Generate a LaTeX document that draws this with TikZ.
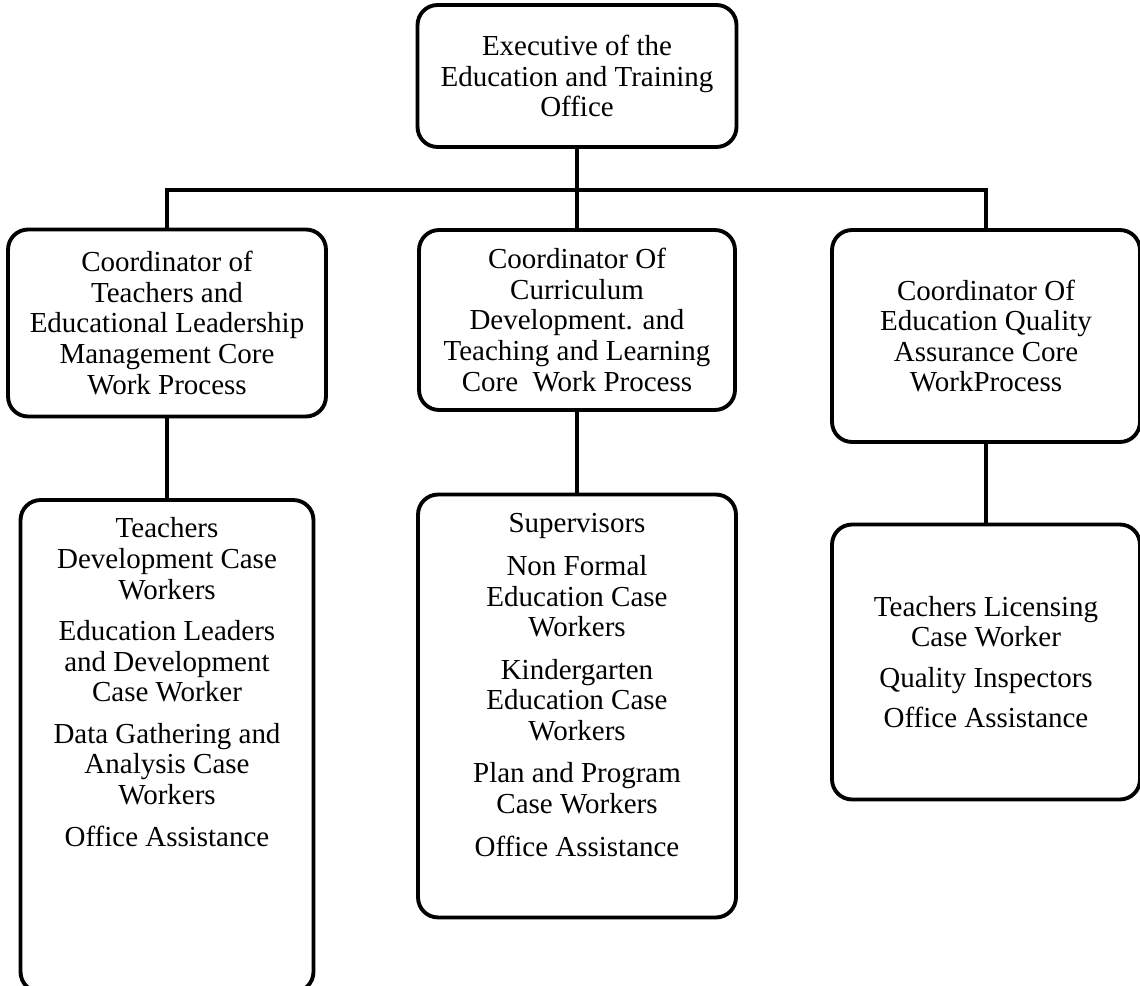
\documentclass[tikz,border=0pt]{standalone}
\usepackage{fontspec}
\setmainfont{Liberation Serif}
\tikzstyle{box}=[draw, line width=2.2pt, rounded corners=0.4cm, align=center, inner sep=0pt]

\begin{document}
\begin{tikzpicture}[x=0.02cm, y=-0.02cm, line width=2.2pt,
font=\fontsize{16.5}{17.4}\selectfont]
\useasboundingbox (0,0) rectangle (1140,986);

 % top
 \node[box, minimum width=6.38cm, minimum height=2.84cm] (exec) at (577,76)
      {Executive of the\\Education and Training\\Office};

 % coordinators
 \node[box, minimum width=6.36cm, minimum height=3.74cm] (coordA) at (167,323)
      {Coordinator of\\Teachers and\\Educational Leadership\\Management Core\\Work Process};
 \node[box, minimum width=6.32cm, minimum height=3.6cm] (coordB) at (577,320)
      {Coordinator Of\\Curriculum\\Development. and\\Teaching and Learning\\Core~ Work Process};
 \node[box, minimum width=6.16cm, minimum height=4.24cm] (coordC) at (986,336)
      {Coordinator Of\\Education Quality\\Assurance Core\\WorkProcess};

 % case workers
 \node[box, minimum width=5.86cm, minimum height=9.84cm] (lowA) at (167,746) {};
 \node[anchor=north, align=center] (lowAtext) at (167,510)
      {Teachers\\Development Case\\Workers\\[0.22cm]
       Education Leaders\\and Development\\Case Worker\\[0.22cm]
       Data Gathering and\\Analysis Case\\Workers\\[0.22cm]
       Office Assistance};
 \node[box, minimum width=6.36cm, minimum height=8.46cm] (lowB) at (577,706) {};
 \node[anchor=north, align=center] (lowBtext) at (577,506)
      {Supervisors\\[0.24cm]
       Non Formal\\Education Case\\Workers\\[0.24cm]
       Kindergarten\\Education Case\\Workers\\[0.24cm]
       Plan and Program\\Case Workers\\[0.24cm]
       Office Assistance};
 \node[box, minimum width=6.16cm, minimum height=5.5cm] (lowC) at (986,662)
      {Teachers Licensing\\Case Worker\\[0.2cm]
       Quality Inspectors\\[0.2cm]
       Office Assistance};

 % connectors
 \coordinate (bus) at (577,190);
 \draw (exec.south) -- (coordB.north);
 \draw (coordA.north) |- (bus) -| (coordC.north);
 \draw (coordA.south) -- (lowA.north);
 \draw (coordB.south) -- (lowB.north);
 \draw (coordC.south) -- (lowC.north);

\end{tikzpicture}
\end{document}
